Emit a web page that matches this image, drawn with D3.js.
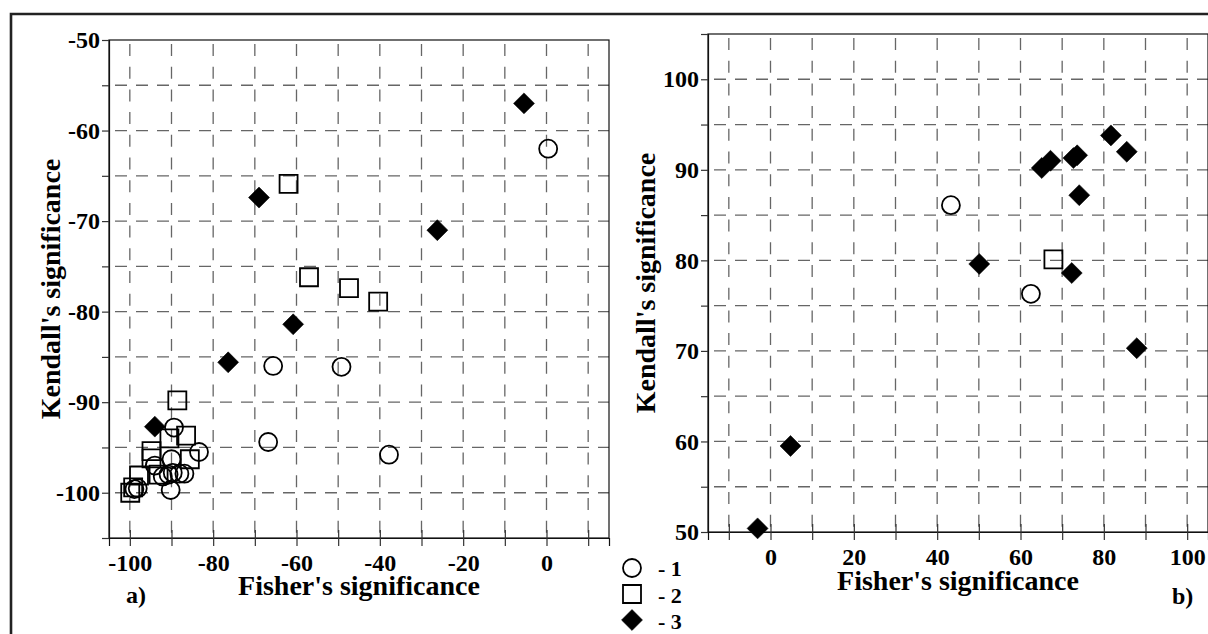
<!DOCTYPE html>
<html>
<head>
<meta charset="utf-8">
<script src="https://cdn.jsdelivr.net/npm/d3@7"></script>
<style>
  body { margin: 0; background: #fff; }
  svg { display: block; }
  text { font-family: "Liberation Serif", "Times New Roman", serif; font-weight: bold; fill: #000; }
</style>
</head>
<body>
<div id="chart"></div>
<script>
// panel a) : negative significances
const aCircles = [[0.4,-62.0],[-65.6,-86.0],[-49.2,-86.1],[-66.8,-94.4],[-37.8,-95.8],[-89.4,-92.8],
  [-83.4,-95.5],[-90.0,-96.3],[-94.0,-97.0],[-92.1,-98.2],[-90.7,-98.0],[-89.7,-97.8],[-88.1,-97.9],
  [-86.9,-97.9],[-90.2,-99.7],[-98.9,-99.6],[-98.1,-99.5]];
const aSquares = [[-61.9,-65.9],[-57.0,-76.2],[-47.4,-77.4],[-40.4,-78.9],[-88.6,-89.8],[-86.5,-93.7],
  [-90.5,-94.0],[-85.6,-96.3],[-94.8,-95.4],[-94.8,-96.2],[-97.8,-98.1],[-93.1,-98.0],[-99.9,-100.0],
  [-99.2,-99.4]];
const aDiamonds = [[-5.4,-57.0],[-69.0,-67.4],[-26.2,-71.0],[-60.8,-81.4],[-76.4,-85.6],[-94.0,-92.7]];

// panel b) : positive significances
const bCircles = [[43.3,86.1],[62.5,76.3]];
const bSquares = [[67.9,80.1]];
const bDiamonds = [[50.1,79.6],[72.3,78.6],[74.1,87.2],[65.1,90.2],[67.2,91.0],[72.7,91.3],[73.6,91.6],
  [81.7,93.8],[85.5,92.0],[87.9,70.3],[4.8,59.5],[-3.1,50.4]];

const aXTicks = [-100, -80, -60, -40, -20, 0];
const aYTicks = [-50, -60, -70, -80, -90, -100];
const bXTicks = [0, 20, 40, 60, 80, 100];
const bYTicks = [50, 60, 70, 80, 90, 100];
const legendLabels = ["- 1", "- 2", "- 3"];

const W = 1208, H = 634;
const svg = d3.select("#chart").append("svg").attr("width", W).attr("height", H);

// outer frame (only top and left edges fall inside the picture)
svg.append("path")
  .attr("d", `M11,${H} L11,14 L${W},14`)
  .attr("fill", "none").attr("stroke", "#222").attr("stroke-width", 2.6);

const shapes = {
  circle: d3.symbol().type(d3.symbolCircle).size(Math.PI * 81),
  square: d3.symbol().type(d3.symbolSquare).size(18 * 18),
  diamond: d3.symbol().type(d3.symbolSquare).size(220)
};

function drawPanel(cfg) {
  const x = d3.scaleLinear().domain(cfg.xDomain).range([cfg.left, cfg.left + 500]);
  const y = d3.scaleLinear().domain(cfg.yDomain).range([cfg.bottom, cfg.top]);
  const g = svg.append("g");
  const plotW = 500, plotH = cfg.bottom - cfg.top;

  // dashed grid
  const xGrid = d3.range(cfg.xDomain[0] + 5, cfg.xDomain[1], 10);
  const yGrid = d3.range(cfg.yDomain[0] + 5, cfg.yDomain[1], 5);
  g.append("g").selectAll("line").data(xGrid).join("line")
    .attr("x1", d => x(d)).attr("x2", d => x(d))
    .attr("y1", cfg.top).attr("y2", cfg.bottom)
    .attr("stroke", "#666").attr("stroke-width", 1.3)
    .attr("stroke-dasharray", "12,10.7").attr("stroke-dashoffset", -4);
  g.append("g").selectAll("line").data(yGrid).join("line")
    .attr("x1", cfg.left).attr("x2", cfg.left + plotW)
    .attr("y1", d => y(d)).attr("y2", d => y(d))
    .attr("stroke", "#666").attr("stroke-width", 1.3)
    .attr("stroke-dasharray", "12,9").attr("stroke-dashoffset", -6);

  // plot box
  g.append("rect").attr("x", cfg.left).attr("y", cfg.top)
    .attr("width", plotW).attr("height", plotH)
    .attr("fill", "none").attr("stroke", "#111").attr("stroke-width", 1.2);

  // axes
  const yAxis = d3.axisLeft(y).tickValues([cfg.yDomain[0]].concat(yGrid, [cfg.yDomain[1]]))
    .tickSize(7).tickPadding(2)
    .tickFormat(d => cfg.yLabels.includes(d) ? String(d) : "");
  const ya = g.append("g").attr("transform", `translate(${cfg.left},0)`).call(yAxis);
  const xAxis = d3.axisBottom(x).tickValues(xGrid)
    .tickSize(8).tickPadding(0)
    .tickFormat(d => cfg.xLabels.includes(d) ? String(d) : "");
  const xa = g.append("g").attr("transform", `translate(0,${cfg.bottom})`).call(xAxis);
  [ya, xa].forEach(a => {
    a.select(".domain").attr("stroke", "#111").attr("stroke-width", 1.2);
    a.selectAll(".tick line").attr("stroke", "#333").attr("stroke-width", 1.2);
    a.selectAll(".tick text").attr("font-size", 24).attr("fill", "#000")
      .attr("font-family", "Liberation Serif, Times New Roman, serif").attr("font-weight", "bold");
  });
  xa.selectAll(".tick text").attr("y", 33).attr("dy", 0);
  xa.selectAll(".tick line").attr("y1", -8);

  // axis titles
  g.append("text").attr("x", cfg.left + plotW / 2).attr("y", cfg.xTitleY)
    .attr("text-anchor", "middle").attr("font-size", 28).text("Fisher's significance");
  g.append("text")
    .attr("transform", `translate(${cfg.yTitleX},${(cfg.top + cfg.bottom) / 2}) rotate(-90)`)
    .attr("text-anchor", "middle").attr("font-size", 28).text("Kendall's significance");
  g.append("text").attr("x", cfg.tagX).attr("y", cfg.tagY)
    .attr("font-size", 24).text(cfg.tag);

  // markers
  const sets = [[cfg.circles, "circle"], [cfg.squares, "square"], [cfg.diamonds, "diamond"]];
  sets.forEach(([data, kind]) => {
    g.append("g").selectAll("path").data(data).join("path")
      .attr("d", shapes[kind])
      .attr("transform", d => `translate(${x(d[0])},${y(d[1])})` + (kind === "diamond" ? " rotate(45)" : ""))
      .attr("fill", kind === "diamond" ? "#000" : "none")
      .attr("stroke", "#000")
      .attr("stroke-width", kind === "diamond" ? 0.5 : 1.8);
  });
}

drawPanel({
  xDomain: [-105, 15], yDomain: [-105, -50],
  left: 109, top: 40, bottom: 538,
  xLabels: aXTicks, yLabels: aYTicks,
  circles: aCircles, squares: aSquares, diamonds: aDiamonds,
  xTitleY: 595, yTitleX: 60, tag: "a)", tagX: 126, tagY: 603
});
drawPanel({
  xDomain: [-15, 105], yDomain: [50, 105],
  left: 708, top: 34, bottom: 532,
  xLabels: bXTicks, yLabels: bYTicks,
  circles: bCircles, squares: bSquares, diamonds: bDiamonds,
  xTitleY: 590, yTitleX: 655, tag: "b)", tagX: 1172, tagY: 604
});

// legend
const legendKinds = ["circle", "square", "diamond"];
const lg = svg.append("g");
lg.selectAll("path").data(legendKinds).join("path")
  .attr("d", k => shapes[k]())
  .attr("transform", (k, i) => `translate(632,${568 + i * 26})` + (k === "diamond" ? " rotate(45)" : ""))
  .attr("fill", k => k === "diamond" ? "#000" : "none")
  .attr("stroke", "#000").attr("stroke-width", (k) => k === "diamond" ? 0.5 : 1.8);
lg.selectAll("text").data(legendLabels).join("text")
  .attr("x", 658).attr("y", (d, i) => 576 + i * 26.5)
  .attr("font-size", 22).text(d => d);
</script>
</body>
</html>
